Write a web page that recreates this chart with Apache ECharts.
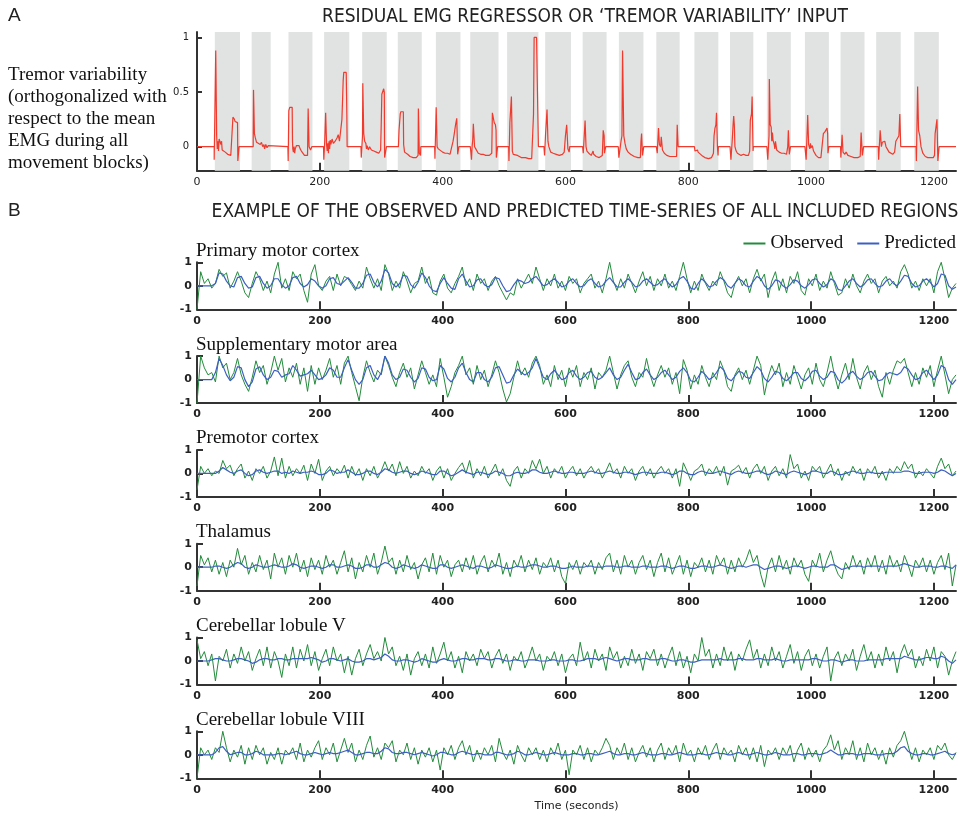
<!DOCTYPE html>
<html><head><meta charset="utf-8">
<script src="https://cdn.jsdelivr.net/npm/echarts@6/dist/echarts.min.js"></script>
<style>html,body{margin:0;padding:0;background:#fff}#c{width:969px;height:818px}</style>
</head><body><div id="c"></div><script>
// ---------- Panel A data ----------
const movementBlocks = [[29,70],[89,120],[149,188],[207,248],[269,309],[327,366],[389,429],[445,491],[505,556],[567,609],[628,667],[687,727],[748,786],[810,849],[868,906],[928,967],[990,1029],[1048,1087],[1106,1146],[1168,1208]];
const tremorInput = [
[0,0],[28,0],[28,-0.12],[29,-0.12],[29,0.27],[30.5,0.27],[30.5,0.88],[31.5,0.88],[32,0.1],[33,-0.02],[34,0.05],[35,-0.04],[36,0.07],[38,0.07],[39,0.02],[40,0.05],[41,-0.03],[43,-0.02],[46,-0.05],[50,-0.07],[55,-0.08],[58,-0.08],[58.5,0.27],[61,0.25],[62,0.23],[66,0.22],[66.5,-0.13],[68,-0.13],[68.5,0],
[91.5,0],[91.5,0.05],[92,0.52],[93,0.52],[93.5,0.12],[95,0.08],[97,0.04],[100,0.03],[103,0.02],[105,0.04],[107,0],[109,0.02],[110,-0.02],[112,0.02],[114,-0.01],[116,0.01],[118,0],
[148,0],[148.5,-0.13],[149.5,-0.13],[149.5,0.33],[151,0.36],[155,0.36],[155.5,0.05],[156,-0.02],[157,-0.05],[158,0],[159,-0.06],[160,-0.02],[162,0.01],[164,0.02],[166,0.01],[168,-0.02],[170,-0.04],[173,-0.05],[175,-0.08],[178,-0.09],[180,-0.08],[181,0.35],[182,0.35],[182.5,0],[185,-0.03],[187,0],
[206,0],[206.5,-0.12],[207.5,-0.12],[208,0.05],[209.5,0.31],[210.5,0.31],[211,0.02],[212,-0.04],[213,0.03],[214,-0.06],[215,0.05],[216,-0.02],[217,0.06],[218,0.02],[220,0.07],[222,0.03],[225,0.05],[228,0.08],[230,0.11],[232,0.05],[235,0.05],[236,0.25],[237,0.42],[238,0.6],[239,0.68],[243,0.68],[244,0.3],[244.5,0],
[267,0],[267.5,-0.1],[269,-0.1],[269.5,0.1],[270,0.58],[271,0.58],[271.5,0.12],[273,0.05],[275,0.03],[276,-0.02],[277,0.01],[279,-0.03],[281,0],[284,-0.03],[288,-0.04],[292,-0.05],[296,-0.06],[299,-0.03],[300,0.2],[301,0.48],[304,0.53],[305,0.5],[305.5,-0.1],[308,-0.1],[308.5,0],
[328,0],[329,0.15],[331,0.3],[332,0.32],[336,0.32],[336.5,0.02],[338,-0.05],[340,-0.04],[343,-0.07],[347,-0.09],[352,-0.1],[357,-0.1],[360,-0.08],[360.5,0.35],[361.5,0.35],[362,-0.06],[364,-0.08],[364.5,0],
[387,0],[387.5,-0.11],[389,-0.11],[389.5,0.36],[390.5,0.36],[391,0],[393,-0.02],[396,-0.02],[400,-0.05],[404,-0.06],[408,-0.06],[412,-0.07],[415,-0.06],[417,0.05],[419,0.12],[421,0.2],[423,0.26],[424,0.27],[424.5,-0.07],[426,-0.08],[426.5,0],
[445,0],[446,-0.05],[447,-0.12],[448,0],[449,0.06],[450,0.21],[451.5,0.21],[452,0],[454,-0.02],[458,-0.06],[462,-0.07],[466,-0.07],[470,-0.08],[476,-0.08],[480,-0.06],[481,0.31],[482,0.3],[484,0.22],[486,0.2],[487,0.15],[487.5,-0.1],[489,-0.1],[489.5,0],
[507.5,0],[508,-0.13],[509,-0.13],[509.5,0.22],[511,0.22],[512,0.46],[513,0.46],[513.5,-0.04],[515,-0.07],[518,-0.08],[522,-0.08],[528,-0.1],[535,-0.1],[540,-0.11],[545,-0.11],[547,-0.1],[548,0.3],[549,1],[553,1],[554,0.63],[555.5,0.63],[556,0],
[565,0],[566,-0.08],[567,-0.08],[567.5,0.1],[569,0.1],[570,0.34],[571,0.34],[571.5,0.05],[573,0],[576,-0.05],[580,-0.06],[585,-0.07],[590,-0.08],[595,-0.07],[598,-0.05],[600,0.1],[602,0.2],[603.5,0.21],[604,-0.02],[606,-0.05],[607,0],
[628,0],[629,-0.06],[631.5,-0.06],[632,0.24],[633,0.24],[633.5,0],[635,-0.04],[638,-0.06],[642,-0.08],[645,-0.04],[646,-0.07],[650,-0.09],[655,-0.1],[660,-0.08],[661.5,0.15],[663,0.1],[663.5,-0.06],[665,-0.06],[665.5,0],
[686,0],[687,-0.1],[690,-0.1],[690.5,0.05],[692,0.1],[693,0.88],[694.5,0.88],[695,0.1],[697,0.03],[699,-0.02],[702,-0.05],[706,-0.07],[712,-0.09],[718,-0.1],[722,-0.1],[723,0.05],[724,0.12],[725,0.12],[725.5,-0.08],[727,-0.08],[727.5,0],
[748,0],[749.5,-0.06],[751,-0.06],[751.5,0.17],[752.5,0.17],[753,0.02],[755,0],[756,0.09],[757,0.09],[758,-0.03],[761,-0.06],[765,-0.08],[770,-0.09],[775,-0.09],[781,-0.09],[782,0.2],[783,0.2],[783.5,0],
[810,0],[811,-0.04],[813,-0.05],[815,-0.03],[816,-0.05],[818,-0.05],[822,-0.08],[827,-0.1],[833,-0.11],[838,-0.1],[841,-0.06],[842,0.1],[843.5,0.17],[845,0.2],[846,0.31],[847,0.31],[847.5,0],[848.5,-0.08],[849,0],
[868,0],[869.5,-0.12],[871,-0.12],[871.5,0.05],[873,0.2],[874,0.28],[875,0.2],[876,0],[878,-0.04],[880,-0.06],[883,-0.05],[886,-0.08],[890,-0.07],[894,-0.08],[898,-0.08],[900,-0.04],[901,0.24],[903,0.3],[904,0.46],[905,0.46],[905.5,-0.04],[906,0],
[928,0],[929.5,-0.12],[931,-0.12],[931.5,0.1],[932,0.62],[933,0.62],[933.5,0.2],[935,0.18],[936,0.05],[937,0.13],[938,0.06],[940,0.02],[941,-0.02],[942,0.05],[944,-0.03],[948,-0.05],[952,-0.06],[956,-0.06],[960,-0.07],[962,0],[963,0.15],[964,0.15],[964.5,-0.07],[966,-0.07],[966.5,0],
[990,0],[992,-0.12],[994,-0.12],[994.5,0.29],[995.5,0.29],[996,0.02],[998,-0.02],[999,0.03],[1000,-0.01],[1002,0.01],[1004,-0.04],[1008,-0.08],[1012,-0.1],[1016,-0.1],[1019,-0.09],[1020,0.12],[1023,0.14],[1026,0.17],[1027,0.12],[1027.5,-0.06],[1029,0],
[1048,0],[1048.5,-0.1],[1050,-0.1],[1050.5,0.11],[1051.5,0.11],[1052,-0.05],[1055,-0.07],[1057,-0.05],[1060,-0.08],[1065,-0.09],[1070,-0.1],[1076,-0.1],[1080,-0.09],[1081.5,0.13],[1083,0.13],[1083.5,-0.08],[1085,-0.08],[1085.5,0],
[1109.5,0],[1110,-0.12],[1112,-0.12],[1112.5,0.15],[1114,0.15],[1114.5,0],[1116,0.04],[1118,0.03],[1120,0.05],[1122,0],[1124,-0.02],[1127,-0.05],[1130,-0.06],[1133,-0.07],[1136,-0.05],[1138,0.05],[1141,0.08],[1143,0.1],[1144.5,0.3],[1145.5,0.3],[1146,0],
[1171,0],[1171.5,-0.13],[1173,-0.13],[1173.5,0.55],[1174.5,0.55],[1175,0.15],[1177,0.1],[1179,0],[1182,-0.06],[1186,-0.09],[1190,-0.1],[1195,-0.1],[1199,-0.1],[1201,-0.08],[1202,0.12],[1204,0.12],[1205,0.25],[1206,0.25],[1206.5,-0.13],[1208,-0.13],[1208.5,0],[1236,0]
];

// ---------- Panel B data (one sample every 6 s, 0..1236 s) ----------
const STEP = 6;
const regions = ['Primary motor cortex','Supplementary motor area','Premotor cortex','Thalamus','Cerebellar lobule V','Cerebellar lobule VIII'];
const xTicks = [0,200,400,600,800,1000,1200];

const obsM1 = [-1,0.6,0.1,0.3,-0.1,0.1,0.7,0.4,0.55,-0.1, 0.2,0.6,0.2,-0.3,-0.5,0.1,0.6,0.3,-0.2,0.2, -0.3,0.5,1,-0.1,0.3,-0.2,0.6,0.3,0.5,-0.2, -0.7,0.5,0.9,0,-0.2,0.2,0.4,-0.2,0.5,0, 0.4,0.3,0.05,-0.2,0.2,-0.1,0.8,0.3,-0.1,0.3, -0.2,0.9,0.5,-0.2,0.2,-0.1,0.6,0.2,-0.3,0.1, 0.2,0.8,0.1,0.4,-0.3,-0.4,0.2,0.5,-0.1,-0.3, 0.1,0.4,0.8,0,0.3,-0.2,0.5,0.1,0.3,-0.2, 0.2,0.4,0,-0.3,-0.6,-0.3,-0.4,0.3,-0.1,0.2, 0.5,0.1,0.8,0.3,-0.2,0.3,0,0.5,-0.1,0.2, -0.2,0.4,0.1,0.3,-0.3,0.1,0.3,0.5,-0.1,0.2, -0.3,0.3,1,0.2,-0.2,0.3,-0.1,0.5,0.1,-0.3, 0.2,0.6,0,0.4,-0.2,0.3,0,0.5,-0.1,0.2, -0.2,0.4,1,0.3,-0.3,0.2,-0.2,0.5,0.1,-0.2, 0.2,0,0.6,0.2,-0.3,-0.5,0.1,0.4,0,0.3, -0.3,0.3,0.7,0.2,0.5,-0.5,0.2,0.6,-0.2,0.3, -0.3,0.4,0.1,0.6,-0.2,-0.4,0.3,0,0.5,-0.2, 0.2,-0.1,0.6,0.1,-0.4,-0.3,0.3,-0.1,0.5,0, -0.3,0.2,0.5,0.1,0.3,-0.3,0.2,0.4,0,0.2, -0.1,0.6,0.9,0.5,-0.1,0.2,-0.2,0.3,0,0.3, -0.3,0.6,1,0.3,-0.5,-0.1,0.1];
const predM1 = [0,0,0,0,0,0.1,0.55,0.5,0.2,0, -0.05,0.35,0.4,0.1,-0.1,-0.05,0.35,0.4,0.1,-0.1, 0,0.3,0.3,0.05,-0.1,0,0.35,0.4,0.1,-0.05, 0.05,0.3,0.2,0,-0.1,0,0.3,0.35,0.1,0.05, 0.2,0.35,0.15,-0.1,-0.1,0.1,0.45,0.5,0.15,-0.05, 0.2,0.7,0.55,0.1,-0.05,0.1,0.45,0.4,0.05,-0.1, 0.15,0.55,0.35,0,-0.2,-0.25,0.1,0.35,0.1,-0.1, -0.15,0.3,0.5,0.2,-0.05,0,0.25,0.3,0.05,-0.05, 0.05,0.35,0.3,0,-0.25,-0.2,0.05,0.25,0.2,0.1, 0.15,0.3,0.4,0.2,0,0.05,0.2,0.3,0.15,-0.05, 0,0.2,0.3,0.1,-0.05,0,0.2,0.3,0.1,-0.05, 0,0.2,0.35,0.15,-0.05,-0.05,0.15,0.3,0.15,-0.05, 0,0.2,0.3,0.15,0,0.05,0.2,0.3,0.1,-0.05, 0.05,0.3,0.4,0.2,-0.1,-0.15,0.1,0.3,0.15,-0.05, 0,0.2,0.35,0.25,0,-0.1,0.1,0.3,0.2,0, -0.05,0.2,0.4,0.3,0,-0.15,0,0.25,0.2,0, -0.1,0.05,0.25,0.2,0,-0.1,0.05,0.25,0.3,0.1, -0.05,0.05,0.3,0.2,-0.15,-0.2,0,0.2,0.3,0.1, -0.05,0.05,0.25,0.3,0.1,-0.05,0,0.2,0.3,0.1, 0,0.2,0.45,0.4,0.1,-0.05,0,0.2,0.3,0.15, -0.05,0.1,0.5,0.45,0,-0.15,-0.05];

const obsSMA = [-1,1,0.5,0.2,0.3,-0.1,1,0.5,0.7,0, 0.3,0.9,0.2,-0.2,-0.5,0.1,0.8,0.3,0.6,-0.2, 0.3,1,0.4,0.9,-0.1,0.5,0.1,0.7,-0.2,0.5, -0.5,0.6,-0.2,0.5,0,0.4,0.9,0.1,0.6,-0.2, 0.7,1,0.3,-0.3,-0.9,0.1,0.8,0.3,-0.1,0.4, 0.2,1,0.6,0.1,-0.3,0.3,0.7,0.1,0.5,-0.4, 0.2,0.8,0.3,-0.2,0.2,-0.3,0.9,0.1,-0.75,-0.3, 0.3,0.6,1,0.2,0.5,-0.2,0.6,0,0.4,-0.3, 0.2,0.8,0.3,-0.4,-0.95,-0.6,0.1,0.8,0.2,0.5, 0.1,0.7,1,0.6,-0.2,0.2,-0.3,0.6,0,0.4, -0.3,0.5,0.1,0.6,-0.3,0.3,0,0.5,-0.4,0.3, 0.1,0.4,1,0.3,-0.4,0.2,0.6,0.8,0.1,-0.3, 0.3,0.1,0.9,0.2,-0.3,0.2,0.6,0.1,0.5,-0.2, 0.3,-0.6,0.85,0.4,-0.4,0.2,-0.2,0.6,0.1,-0.3, 0.3,0,0.8,0.4,-0.3,-0.5,0.2,0.5,0,0.4, -0.2,0.4,1,0.6,-0.65,0.1,0.6,0.2,0.7,-0.3, 0.3,-0.2,0.6,0.1,-0.4,0.2,0.5,-0.2,0.7,0, -0.3,0.3,1,0.2,-0.4,0.2,0.7,0,0.9,0.1, -0.4,0.3,0.6,0,0.4,-0.3,-0.75,0.3,-0.2,0.4, 0.8,0.7,0.9,0.3,-0.3,0.3,-0.2,0.5,0.1,0.6, -0.3,0.4,1,0.2,-0.6,0,0.2];
const predSMA = [0,0,0,0,0,0.3,0.9,0.6,0.2,-0.05, 0.1,0.55,0.5,0,-0.3,-0.1,0.45,0.55,0.2,0, 0.1,0.4,0.35,0.1,0.2,0.25,0.6,0.4,0.15,0.2, 0.25,0.4,0.2,0,0.05,0.2,0.5,0.4,0.1,0.1, 0.5,0.85,0.4,0,-0.2,0,0.5,0.6,0.2,0, 0.3,1,0.7,0.2,0,0.1,0.45,0.4,0.1,-0.1, 0.05,0.5,0.45,0.1,-0.05,0,0.6,0.45,0.05,-0.1, 0.1,0.5,0.7,0.3,0,-0.1,0.3,0.3,0,-0.1, 0.1,0.5,0.55,0.2,-0.15,-0.1,0.2,0.45,0.3,0.2, 0.3,0.5,0.9,0.5,0.1,0,0.25,0.4,0.2,0, 0.05,0.3,0.4,0.15,0,0.1,0.3,0.35,0.1,0, 0.1,0.3,0.5,0.2,0,0.1,0.4,0.65,0.3,0, 0.05,0.3,0.45,0.2,0,0.1,0.3,0.4,0.2,0, 0.1,0.35,0.5,0.3,-0.05,-0.1,0.1,0.35,0.2,0, 0.1,0.3,0.55,0.4,0.05,-0.05,0.15,0.35,0.3,0.1, 0.05,0.3,0.55,0.4,0.05,-0.1,0.1,0.35,0.3,0.05, -0.05,0.1,0.3,0.3,0.05,-0.05,0.1,0.35,0.4,0.15, 0,0.1,0.35,0.3,0,-0.15,0,0.25,0.35,0.15, 0,0.1,0.3,0.35,0.15,-0.05,0,0.2,0.3,0.25, 0.2,0.3,0.55,0.45,0.2,0,0.05,0.3,0.4,0.2, 0,0.2,0.6,0.5,0,-0.2,0];

const obsPMC = [-0.7,0.3,0,0.2,-0.1,0.1,0,0.55,0.2,0.35, -0.1,0.2,0.4,-0.2,0.1,-0.3,0.2,0,0.3,-0.2, 0.1,0.7,-0.1,0.65,-0.2,0.3,-0.1,0.2,0,0.35, -0.3,0.4,0,0.6,-0.3,0.1,0.3,-0.1,0.2,0, 0.35,-0.2,0.3,-0.1,0.2,-0.3,0.2,-0.1,0.3,-0.2, 0.1,0.5,0.1,0.4,-0.1,0.5,0,0.3,-0.2,0.1, -0.1,0.3,0,0.2,-0.3,0.1,0.3,-0.2,0.2,-0.3, 0,0.25,0.45,0,0.55,-0.2,0.2,-0.1,0.3,-0.2, 0.1,0.4,-0.1,0.2,-0.3,-0.55,0.1,0.3,-0.2,0.2, 0,0.55,0.2,0.6,0,0.3,-0.2,0.2,0,0.3, -0.2,0.1,0.3,-0.1,0.2,-0.2,0.1,0.3,0,0.2, -0.2,0.1,0.45,0,0.2,-0.2,0.3,0,0.2,-0.3, 0.1,0.3,-0.1,0.2,-0.2,0.1,0.3,0,0.2,-0.2, 0.2,-0.55,0.45,0.1,-0.3,0.1,0.2,0.4,-0.1,0.2, 0,0.3,-0.1,0.3,-0.5,0.1,0.2,0.35,0,0.25, -0.2,0.2,0.4,0,0.3,-0.3,0.1,0.3,-0.1,0.2, -0.2,0.8,0.2,0.4,-0.2,0.1,-0.3,0.3,0.1,0.3, -0.2,0.1,0.4,-0.1,0.2,-0.3,0.1,-0.1,0.3,0, 0.2,-0.3,0.2,0,0.3,-0.2,0.1,-0.3,0.2,0, 0.3,0.1,0.5,0.2,0.4,-0.2,0.1,-0.1,0.2,0, -0.2,0.3,0.65,0.2,0.4,-0.1,0.1];
const predPMC = [0,0,0,0,0,0,0.1,0.25,0.15,0.05, 0,0.1,0.15,0,-0.1,-0.05,0.1,0.15,0.05,0, 0.05,0.1,0.1,0,0.05,0,0.1,0.05,0,0.05, 0.05,0.1,0.05,-0.05,-0.05,0,0.15,0.1,0,0.05, 0.05,0.15,0.05,-0.05,-0.05,0,0.1,0.1,0,-0.05, 0.05,0.2,0.15,0.05,0,0.05,0.1,0.1,0,-0.05, 0,0.1,0.05,0,-0.05,-0.05,0.1,0.1,0,-0.1, -0.05,0.05,0.15,0.05,0,-0.05,0.05,0.05,0,-0.05, 0,0.1,0.05,0,-0.1,-0.1,0,0.05,0,0, 0.05,0.15,0.15,0.05,0,0,0.05,0.1,0.05,0, 0,0.05,0.05,0,0,0,0.05,0.1,0.05,0, 0,0.05,0.1,0.05,0,0,0.05,0.05,0,-0.05, 0,0.05,0.05,0,0,0,0.05,0.05,0,-0.05, 0,0.1,0.1,0,-0.05,-0.05,0.05,0.1,0.05,0, 0,0.05,0.1,0.05,0,-0.05,0.05,0.1,0.05,0, 0,0.05,0.1,0.1,0,-0.05,0,0.1,0.05,0, -0.05,0.05,0.1,0.05,0,-0.05,0,0.1,0.1,0.05, 0,0,0.1,0.05,-0.05,-0.05,0,0.05,0.1,0.05, 0,0,0.05,0.05,0,0,0,0.05,0.05,0.05, 0.05,0.05,0.1,0.1,0.05,0,0,0.05,0.05,0.05, 0,0.05,0.15,0.1,0,-0.1,0];

const obsThal = [-0.8,0.5,0.1,0.4,-0.2,0.3,-0.3,0.2,-0.4,0.3, 0,0.8,0.1,0.5,-0.3,0.2,-0.2,0.5,-0.1,0.3, -0.5,0.6,0,0.4,-0.3,0.5,0,0.6,-0.2,0.3, -0.4,0.4,-0.1,0.3,-0.3,0.5,0,0.3,-0.3,0.2, 0.7,-0.2,0.4,-0.5,0.2,-0.2,0.5,0,0.6,-0.3, 0.2,0.9,0.2,0.4,-0.3,0.3,-0.2,0.5,-0.1,0.2, -0.5,0.1,0.4,-0.2,0.6,-0.3,0.5,0,0.3,-0.4, 0.1,0.3,-0.2,0.4,-0.1,0.5,-0.3,0.2,0.5,-0.2, 0.3,0,0.6,-0.3,0.2,-0.4,0.3,0,0.5,-0.2, 0.3,-0.1,0.4,-0.3,0.2,0,0.4,-0.2,0.3,-0.4, -0.7,0.2,-0.1,0.3,-0.3,0.2,0,0.3,-0.3,0.2, -0.1,0.4,0.6,-0.2,0.3,-0.3,0.5,0,0.3,-0.3, 0.2,0.5,-0.1,0.3,-0.4,0.2,0.6,-0.2,0.4,-0.3, 0.1,0.5,-0.3,0.3,-0.4,0.2,0,0.4,-0.2,0.3, -0.3,0.5,0.1,0.4,-0.3,0.3,-0.2,0.4,0,0.3, 0.75,0.2,0.5,-0.3,-0.85,0,0.4,-0.2,0.5,-0.1, 0.3,-0.3,0.4,0,0.3,-0.3,-0.6,0.3,0,0.6, -0.2,0.3,0.7,0.1,-0.3,-0.5,0.2,-0.1,0.5,0, 0.3,-0.3,0.4,0,0.5,-0.2,0.3,-0.3,0.5,0, 0.3,-0.2,0.5,0.1,-0.4,0.3,0,0.4,-0.2,0.3, -0.3,0.2,0.5,-0.1,0.6,-0.8,0.1];
const predThal = [0,0,0,0,0,0.05,0.05,0,-0.05,0, 0.1,0.2,0.15,0,-0.05,0,0.1,0.05,0,0, 0.05,0.1,0.05,0,0,0.05,0.15,0.1,0,-0.05, 0,0.05,0.05,0,-0.05,0,0.1,0.1,0,0, 0.05,0.1,0.05,-0.05,-0.05,0,0.1,0.1,0,0, 0.1,0.2,0.15,0,-0.05,0,0.1,0.05,0,-0.05, 0,0.1,0.05,0,-0.05,-0.05,0.1,0.1,0,-0.05, 0,0.05,0.1,0.05,0,-0.05,0.05,0.05,0,-0.05, 0,0.1,0.05,0,-0.05,-0.05,0,0.05,0,0, 0.05,0.1,0.1,0.05,0,0,0.05,0.05,0,-0.05, -0.05,0,0.05,0,0,0,0.05,0.05,0,0, 0,0.05,0.05,0.05,0,0,0.05,0.05,0,0, 0,0.05,0.05,0,0,0,0.05,0.05,0,-0.05, 0,0.05,0.05,0,-0.05,-0.05,0,0.05,0.05,0, 0,0.05,0.1,0.05,0,-0.05,0,0.05,0.05,0, 0.05,0.1,0.1,0,-0.1,-0.05,0,0.05,0.05,0, -0.05,0,0.05,0.05,0,-0.05,0,0.05,0.05,0, 0,0,0.1,0.1,0,-0.1,-0.05,0,0.05,0.05, 0.05,0,0.05,0.05,0.05,0.05,0,0.05,0.05,0.05, 0.05,0.1,0.15,0.1,0.05,0,0,0.05,0.05,0.05, 0,0,0.05,0.05,0,-0.05,0.1];

const obsCbV = [0.9,0.1,0.4,-0.2,0.3,-0.85,0.2,0,0.5,-0.3, 0.3,-0.1,0.6,0,0.4,-0.4,0.1,0.5,-0.2,0.6, -0.3,0.4,0,-0.7,0.3,-0.2,0.6,-0.3,0.5,0, 0.7,-0.2,0.4,-0.4,0.1,0.5,-0.2,0.6,0,0.3, -0.5,0.2,-0.6,0.1,0.5,-0.2,0.3,0.7,0.1,0.4, 0,1,0.3,0.6,-0.2,0.2,-0.4,0.3,-0.6,0.1, 0.4,-0.2,0.3,-0.3,0.6,-0.1,0.3,0.8,0,0.4, -0.3,0.2,-0.5,0.4,0,0.3,-0.2,0.5,0.1,0.4, -0.3,0.2,0.5,-0.1,0.3,-0.4,0.2,0,0.4,-0.3, 0.1,0.6,0,0.3,-0.4,0.2,0,0.4,-0.2,0.3, -0.5,0.1,0.3,-0.2,0.8,0,0.4,-0.3,0.5,0, 0.3,-0.4,0.6,0.1,0.4,-0.3,0.2,-0.2,0.5,-0.1, 0.3,-0.4,0.4,0.1,0.5,-0.2,0.3,-0.3,0.2,0.6, -0.2,0.4,-0.3,0.2,-0.5,0.3,0,1,0.2,0.5, -0.3,0.3,-0.2,0.6,0,0.4,-0.4,0.3,0,0.5, 0.9,0.1,0.5,-0.3,0.3,-0.2,0.6,0,0.4,-0.3, 0.2,0.7,-0.1,0.4,-0.4,0.2,0.5,-0.2,0.3,-0.3, 0.2,0.6,-0.85,0.1,0.4,-0.2,0.3,0,0.5,-0.4, 0.2,0.7,0,0.4,-0.3,0.3,-0.2,0.6,0,0.4, -0.5,0.3,0.7,0.2,0.5,-0.3,0.2,-0.2,0.5,0, 0.6,-0.3,0.4,0.2,-0.6,0,0.4];
const predCbV = [0,0,0,0,0.05,0.1,0.1,0.05,0,0, 0.05,0.1,0.1,0.05,0,-0.1,-0.05,0.05,0.1,0.1, 0.05,0.05,0.1,0.1,0.05,0.05,0.1,0.1,0.1,0.1, 0.1,0.15,0.1,0.05,-0.05,0,0.1,0.1,0.05,0, 0.05,0.1,0,-0.05,-0.05,0,0.1,0.1,0.05,0.1, 0.15,0.3,0.2,0.05,0,0,0.05,0.05,0,-0.05, 0,0.1,0.05,0,-0.05,-0.05,0.05,0.1,0.05,0, 0,0.05,0.1,0.1,0.05,0.05,0.1,0.1,0.1,0.05, 0.05,0.1,0.1,0.05,0,0,0.05,0.05,0,0, 0.05,0.05,0.05,0,0,0,0.05,0.05,0,0, 0,0.05,0.05,0,0,0.05,0.1,0.1,0.1,0.05, 0.1,0.15,0.1,0.05,0,0.05,0.1,0.1,0.05,0.05, 0.05,0.1,0.1,0.05,0.05,0.05,0.1,0.1,0.05,0, 0,0.05,0.05,0,-0.05,-0.05,0,0.05,0.05,0.05, 0.05,0.05,0.1,0.05,0.05,0.05,0.05,0.1,0.1,0.05, 0.05,0.05,0.1,0.1,0.05,0.05,0.05,0.1,0.05,0, 0,0.05,0.05,0.05,0.05,0.05,0.05,0.1,0.1,0.05, 0,0,0.05,0.05,0,-0.05,0,0.05,0.05,0, 0,0,0.05,0.05,0.05,0.05,0.05,0.1,0.1,0.1, 0.1,0.1,0.2,0.15,0.1,0.05,0.05,0.1,0.15,0.15, 0.1,0.1,0.2,0.15,0,-0.1,0.05];

const obsCbVIII = [-1,0.3,0,0.2,-0.2,0.3,0.1,1,0.3,-0.3, 0.2,-0.1,0.4,-0.4,0.3,-0.2,0.4,0,0.3,-0.4, 0.1,-0.2,0.3,-0.4,0.2,0,0.3,-0.2,0.5,-0.3, 0.2,-0.1,0.3,0.6,-0.2,0.3,0,0.5,-0.3,0.2, 0.7,0.1,0.5,-0.3,0.2,-0.2,0.4,0.8,-0.1,0.3, -0.2,0.5,0.3,0.6,-0.3,0.2,0,0.5,-0.2,0.3, -0.4,0.2,-0.1,0.3,-0.3,0.2,-0.65,0.3,0,0.4, -0.2,0.3,0.6,0,0.4,-0.3,0.2,-0.2,0.3,0, 0.4,-0.3,0.7,0.1,-0.2,0.2,-0.4,0.4,0,-0.3, 0.3,0,0.3,-0.2,0.2,-0.3,0.3,0,0.5,-0.2, 0.2,-0.85,0.2,0,0.4,-0.2,0.3,-0.3,0.2,0, 0.3,0.7,0.4,-0.2,0.3,0,0.5,-0.2,0.3,-0.3, 0.1,0.4,-0.1,0.3,-0.3,0.2,0.5,-0.2,0.3,0, 0.4,-0.3,0.5,0,0.2,-0.3,0.3,0,0.4,-0.2, 0.2,0.5,-0.2,0.3,0,0.2,-0.3,0.4,0,0.3, -0.2,0.3,-0.3,0.4,-0.5,0.2,0,0.3,-0.2,0.3, 0,0.4,-0.3,0.2,0.5,-0.2,0.3,-0.1,0.2,-0.3, 0.2,0.4,0.85,0.2,0.6,-0.2,0.3,0,0.6,-0.2, 0.3,-0.3,0.5,0,0.3,-0.2,0.2,-0.4,0.3,-0.1, 0.4,0.6,1,0.4,-0.2,0.3,-0.3,0.2,0,0.3, -0.2,0.4,0.2,0.5,0,-0.2,0.1];
const predCbVIII = [0,0,0,0,0,0.1,0.3,0.35,0.15,0, 0.05,0.1,0.1,0,0,0.05,0.15,0.1,0,0, 0,0,0.05,0.05,0,0.05,0.1,0.15,0.05,0, 0,0.05,0.1,0.05,0,0.05,0.1,0.05,0.05,0.1, 0.15,0.2,0.1,0,0,0.05,0.1,0.1,0.05,0.05, 0.15,0.3,0.25,0.1,0.05,0.05,0.1,0.1,0.05,0, 0.05,0.1,0.05,0,-0.05,0,0.1,0.1,0.05,0, 0,0.1,0.15,0.1,0.05,0,0.05,0.05,0,0, 0,0.1,0.1,0.05,0,0,0.05,0.15,0.1,0, 0,0.05,0.1,0.05,0,0,0.05,0.1,0.05,0, 0,0,0.05,0.05,0,0,0.05,0.05,0,0, 0.05,0.1,0.15,0.05,0,0,0.05,0.05,0,0, 0.05,0.1,0.05,0,0,0,0.05,0.05,0,0, 0.05,0.1,0.05,0,0,0,0.05,0.05,0,0, 0.05,0.1,0.05,0.05,0,0,0.05,0.1,0.05,0, 0,0.05,0.1,0.05,0,0,0.05,0.1,0.05,0, 0,0,0.05,0.05,0,0,0.05,0.05,0.05,0, 0.05,0.1,0.2,0.1,0,0,0.05,0.05,0.05,0, 0,0.05,0.05,0.05,0,0,0,0.05,0.05,0.05, 0.15,0.3,0.35,0.15,0.05,0,0,0.05,0.05,0, 0,0.05,0.1,0.15,0.05,0,0.05];

const observed = [obsM1, obsSMA, obsPMC, obsThal, obsCbV, obsCbVIII];
const predicted = [predM1, predSMA, predPMC, predThal, predCbV, predCbVIII];

// ---------- layout ----------
const X0 = 197, W = 759, XMAX = 1236;
const B_TOP = 262.3, B_GAP = 93.8, B_H = 47;
const GREEN = '#238b3b', BLUE = '#3d5fc4', RED = '#ef3a2d';
const AX = '#333';
const serif = '"Liberation Serif", "DejaVu Serif", serif';
const narrow = '"Liberation Sans Narrow", "DejaVu Sans Condensed", "Liberation Sans", sans-serif';
const plain = v => String(v);

const grids = [{left: X0, top: 32, width: W, height: 138.7}];
const xAxes = [], yAxes = [], series = [];
function xAxisCfg(gi, bold) {
  return {
    gridIndex: gi, type: 'value', min: 0, max: XMAX, interval: 200,
    axisLine: {show: true, onZero: false, lineStyle: {color: AX, width: 2}},
    axisTick: {show: true, inside: true, length: 8, lineStyle: {color: AX, width: 2}, customValues: xTicks.slice(1)},
    axisLabel: {customValues: xTicks, formatter: plain, margin: 6, fontSize: 11, color: '#222', fontFamily: '"DejaVu Sans", sans-serif', fontWeight: bold ? 'bold' : 'normal'},
    splitLine: {show: false}
  };
}
xAxes.push(xAxisCfg(0, false));
yAxes.push({
  gridIndex: 0, type: 'value', min: -0.22, max: 1.05,
  axisLine: {show: true, lineStyle: {color: AX, width: 2}},
  axisTick: {show: true, inside: true, length: 5, lineStyle: {color: AX, width: 2}, customValues: [0, 0.5, 1]},
  axisLabel: {customValues: [0, 0.5, 1], formatter: plain, margin: 8, fontSize: 10, color: '#222', fontFamily: '"DejaVu Sans", sans-serif'},
  splitLine: {show: false}
});
series.push({
  type: 'line', xAxisIndex: 0, yAxisIndex: 0, data: tremorInput, showSymbol: false, symbol: 'none',
  lineStyle: {color: RED, width: 1.2}, z: 3, silent: true,
  markArea: {silent: true, itemStyle: {color: '#e1e2e2'}, data: movementBlocks.map(b => [{xAxis: b[0]}, {xAxis: b[1]}])}
});

const graphics = [];
for (let k = 0; k < 6; k++) {
  const gi = k + 1;
  const top = B_TOP + B_GAP * k;
  grids.push({left: X0, top: top, width: W, height: B_H});
  const xa = xAxisCfg(gi, true);
  if (k === 5) {
    xa.name = 'Time (seconds)'; xa.nameLocation = 'middle'; xa.nameGap = 22;
    xa.nameTextStyle = {fontSize: 11, color: '#222', fontFamily: '"DejaVu Sans", sans-serif'};
  }
  xAxes.push(xa);
  yAxes.push({
    gridIndex: gi, type: 'value', min: -1, max: 1,
    axisLine: {show: true, lineStyle: {color: AX, width: 2}},
    axisTick: {show: true, inside: true, length: 6, lineStyle: {color: AX, width: 2}, customValues: [-1, 0, 1]},
    axisLabel: {customValues: [-1, 0, 1], formatter: plain, margin: 5, fontSize: 11, color: '#222', fontWeight: 'bold', fontFamily: '"DejaVu Sans", sans-serif'},
    splitLine: {show: false}
  });
  series.push({
    name: 'Observed', type: 'line', xAxisIndex: gi, yAxisIndex: gi, showSymbol: false, symbol: 'none', silent: true,
    data: observed[k].map((v, i) => [i * STEP, v]), lineStyle: {color: GREEN, width: 1}, itemStyle: {color: GREEN}, z: 3
  });
  series.push({
    name: 'Predicted', type: 'line', xAxisIndex: gi, yAxisIndex: gi, showSymbol: false, symbol: 'none', silent: true,
    data: predicted[k].map((v, i) => [i * STEP, v]), lineStyle: {color: BLUE, width: 1.2}, itemStyle: {color: BLUE}, z: 4
  });
  graphics.push({type: 'text', left: X0 - 1, top: top - 21, style: {text: regions[k], font: '19px ' + serif, fill: '#111'}});
}

const leftLines = ['Tremor variability', '(orthogonalized with', 'respect to the mean', 'EMG during all', 'movement blocks)'];
leftLines.forEach((t, i) => graphics.push({type: 'text', left: 8, top: 66 + 22 * i, style: {text: t, font: '19px ' + serif, fill: '#111'}}));
graphics.push({type: 'text', left: 8, top: 6, style: {text: 'A', font: '19px "Liberation Sans", sans-serif', fill: '#222'}});
graphics.push({type: 'text', left: 8, top: 201, style: {text: 'B', font: '19px "Liberation Sans", sans-serif', fill: '#222'}});
graphics.push({type: 'text', x: 585, y: 17, style: {text: "RESIDUAL EMG REGRESSOR OR \u2018TREMOR VARIABILITY\u2019 INPUT", font: '19px ' + narrow, fill: '#222', align: 'center', verticalAlign: 'middle', textAlign: 'center', textVerticalAlign: 'middle'}});
graphics.push({type: 'text', x: 585, y: 212, style: {text: 'EXAMPLE OF THE OBSERVED AND PREDICTED TIME-SERIES OF ALL INCLUDED REGIONS', font: '19px ' + narrow, fill: '#222', align: 'center', verticalAlign: 'middle', textAlign: 'center', textVerticalAlign: 'middle'}});

const chart = echarts.init(document.getElementById('c'), null, {renderer: 'canvas'});
chart.setOption({
  animation: false,
  backgroundColor: '#fff',
  grid: grids, xAxis: xAxes, yAxis: yAxes, series: series,
  legend: {data: ['Observed', 'Predicted'], right: 8, top: 229, icon: 'rect', itemWidth: 22, itemHeight: 2, itemGap: 14,
    textStyle: {fontFamily: serif, fontSize: 19, color: '#111'}},
  graphic: graphics
});
</script></body></html>
